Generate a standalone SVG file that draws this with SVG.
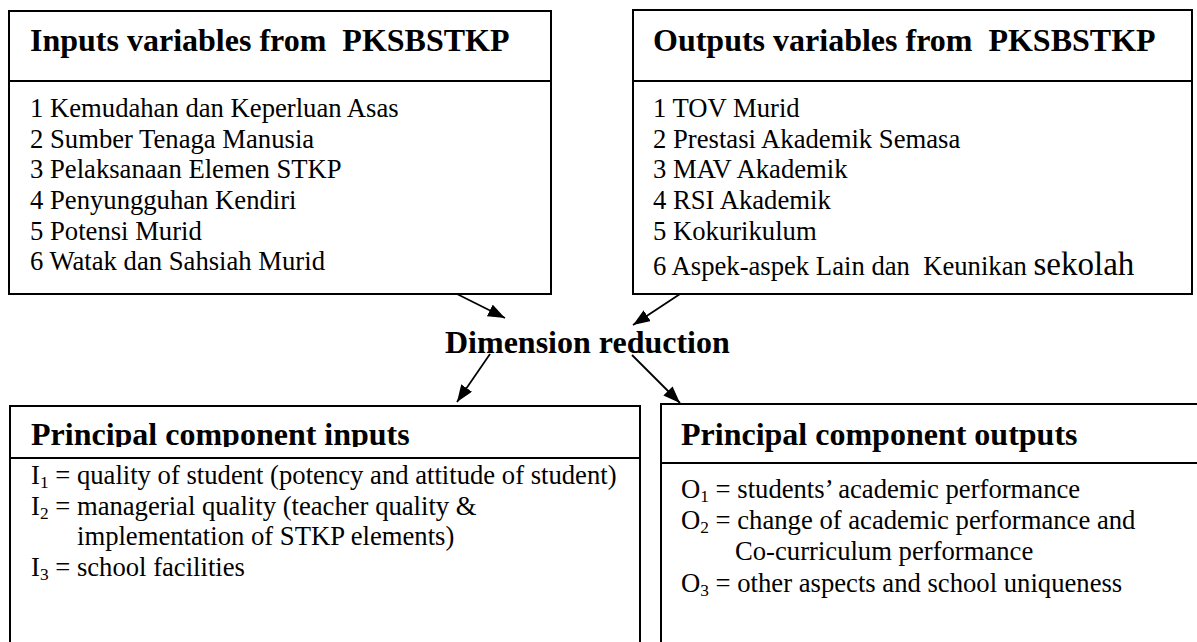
<svg xmlns="http://www.w3.org/2000/svg" width="1197" height="642" viewBox="0 0 1197 642">
  <style>
    .box { fill: #ffffff; stroke: #000000; stroke-width: 2; }
    .div { stroke: #000000; stroke-width: 2; }
    .hdr { font-family: "Liberation Serif", "Times New Roman", serif; font-weight: bold; font-size: 32px; fill: #000000; }
    .txt { font-family: "Liberation Serif", "Times New Roman", serif; font-size: 26.67px; fill: #000000; }
    .sub { font-size: 17.3px; }
    .conn { stroke: #000000; stroke-width: 1.8; fill: none; }
  </style>
  <defs>
    <marker id="arrow" markerWidth="17" markerHeight="13" refX="17" refY="6.5" orient="auto" markerUnits="userSpaceOnUse">
      <path d="M0,0 L17,6.5 L0,13 z" fill="#000000"/>
    </marker>
    <clipPath id="clipHdrL">
      <rect x="10" y="406" width="630" height="41"/>
    </clipPath>
  </defs>
  <rect width="1197" height="642" fill="#ffffff"/>

  <g id="inputs-variables">
    <rect class="box" x="9" y="11" width="542" height="283"/>
    <line class="div" x1="9" y1="81" x2="551" y2="81"/>
    <text class="hdr" x="30" y="51" xml:space="preserve">Inputs variables from  PKSBSTKP</text>
    <text class="txt" x="30" y="117">1 Kemudahan dan Keperluan Asas</text>
    <text class="txt" x="30" y="147.5">2 Sumber Tenaga Manusia</text>
    <text class="txt" x="30" y="178">3 Pelaksanaan Elemen STKP</text>
    <text class="txt" x="30" y="209">4 Penyungguhan Kendiri</text>
    <text class="txt" x="30" y="239.5">5 Potensi Murid</text>
    <text class="txt" x="30" y="270">6 Watak dan Sahsiah Murid</text>
  </g>

  <g id="outputs-variables">
    <rect class="box" x="633" y="10" width="559" height="284"/>
    <line class="div" x1="633" y1="81" x2="1192" y2="81"/>
    <text class="hdr" x="653" y="51" xml:space="preserve">Outputs variables from  PKSBSTKP</text>
    <text class="txt" x="653" y="117">1 TOV Murid</text>
    <text class="txt" x="653" y="147.5">2 Prestasi Akademik Semasa</text>
    <text class="txt" x="653" y="178">3 MAV Akademik</text>
    <text class="txt" x="653" y="209">4 RSI Akademik</text>
    <text class="txt" x="653" y="239.5">5 Kokurikulum</text>
    <text class="txt" x="653" y="275" xml:space="preserve">6 Aspek-aspek Lain dan  Keunikan <tspan font-size="33px">sekolah</tspan></text>
  </g>

  <g id="dimension-reduction">
    <text class="hdr" x="445" y="353">Dimension reduction</text>
  </g>

  <g id="principal-inputs">
    <rect class="box" x="10" y="406" width="630" height="300"/>
    <line class="div" x1="10" y1="458" x2="640" y2="458"/>
    <text class="hdr" x="31" y="445" clip-path="url(#clipHdrL)">Principal component inputs</text>
    <text class="txt" x="31" y="484">I<tspan class="sub" dy="4">1</tspan><tspan dy="-4"> = quality of student (potency and attitude of student)</tspan></text>
    <text class="txt" x="31" y="515">I<tspan class="sub" dy="4">2</tspan><tspan dy="-4"> = managerial quality (teacher quality &amp;</tspan></text>
    <text class="txt" x="77" y="545">implementation of STKP elements)</text>
    <text class="txt" x="31" y="576">I<tspan class="sub" dy="4">3</tspan><tspan dy="-4"> = school facilities</tspan></text>
  </g>

  <g id="principal-outputs">
    <rect class="box" x="661" y="404" width="600" height="300"/>
    <line class="div" x1="661" y1="463" x2="1197" y2="463"/>
    <text class="hdr" x="681" y="445">Principal component outputs</text>
    <text class="txt" x="681" y="498">O<tspan class="sub" dy="4">1</tspan><tspan dy="-4"> = students’ academic performance</tspan></text>
    <text class="txt" x="681" y="528.5">O<tspan class="sub" dy="4">2</tspan><tspan dy="-4"> = change of academic performance and</tspan></text>
    <text class="txt" x="735" y="560">Co-curriculum performance</text>
    <text class="txt" x="681" y="591.5">O<tspan class="sub" dy="4">3</tspan><tspan dy="-4"> = other aspects and school uniqueness</tspan></text>
  </g>

  <g id="connectors">
    <line class="conn" x1="457" y1="294" x2="505" y2="318" marker-end="url(#arrow)"/>
    <line class="conn" x1="680" y1="294" x2="633" y2="325" marker-end="url(#arrow)"/>
    <line class="conn" x1="490" y1="354" x2="457" y2="402" marker-end="url(#arrow)"/>
    <line class="conn" x1="632" y1="355" x2="680" y2="403" marker-end="url(#arrow)"/>
  </g>
</svg>
